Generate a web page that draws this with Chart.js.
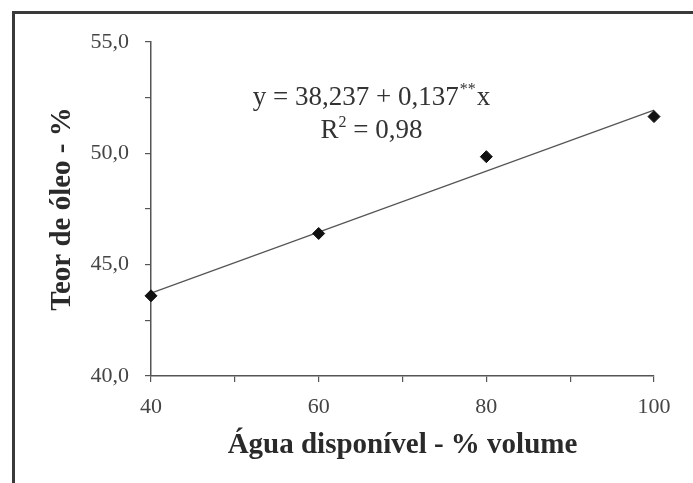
<!DOCTYPE html>
<html>
<head>
<meta charset="utf-8">
<script src="https://cdn.jsdelivr.net/npm/chart.js@4.4.1/dist/chart.umd.min.js"></script>
<style>
  html, body { margin: 0; padding: 0; background: #fff; }
  #wrap { position: relative; width: 693px; height: 483px; }
  #frame { position: absolute; left: 12px; top: 11px; right: -10px; bottom: -10px;
           border-top: 3px solid #3a3a3a; border-left: 3px solid #3a3a3a; pointer-events: none; }
  canvas { position: absolute; left: 0; top: 0; }
</style>
</head>
<body>
<div id="wrap">
  <canvas id="c" width="693" height="483"></canvas>
  <div id="frame"></div>
</div>
<script>
// Data
const waterAvailable = [40, 60, 80, 100];          // % volume
const oilContent     = [43.6, 46.4, 49.85, 51.65];  // %
const trendX = [40, 100];
const trendY = [43.72, 51.94];
const xTickLabels = [40, 60, 80, 100];
const yTickLabels = [40, 45, 50, 55];
const equationText = "y = 38,237 + 0,137";
const equationSup = "**";
const equationTail = "x";
const r2Text = "= 0,98";

const points = waterAvailable.map((x, i) => ({ x: x, y: oilContent[i] }));
const trend = trendX.map((x, i) => ({ x: x, y: trendY[i] }));

const serif = "'Liberation Serif', 'DejaVu Serif', serif";

const equationPlugin = {
  id: 'equation',
  afterDatasetsDraw(chart) {
    const ctx = chart.ctx;
    const xs = chart.scales.x, ys = chart.scales.y;
    const cx = xs.getPixelForValue(66.3);
    const y1 = ys.getPixelForValue(52.5);
    const y2 = ys.getPixelForValue(51.0);
    ctx.save();
    ctx.fillStyle = '#333';
    ctx.textBaseline = 'middle';
    const f = "27px " + serif, fs = "16px " + serif;
    ctx.font = f;
    const w1 = ctx.measureText(equationText).width;
    ctx.font = fs;
    const ws = ctx.measureText(equationSup).width;
    ctx.font = f;
    const wt = ctx.measureText(equationTail).width;
    let x = cx - (w1 + ws + wt + 2) / 2;
    ctx.textAlign = 'left';
    ctx.fillText(equationText, x, y1);
    x += w1 + 1;
    ctx.font = fs;
    ctx.fillText(equationSup, x, y1 - 8);
    x += ws + 1;
    ctx.font = f;
    ctx.fillText(equationTail, x, y1);
    const rw = ctx.measureText("R").width;
    ctx.font = fs;
    const sw = ctx.measureText("2").width;
    ctx.font = f;
    const ew = ctx.measureText(" " + r2Text).width;
    let x2 = cx - (rw + sw + ew) / 2;
    ctx.fillText("R", x2, y2);
    x2 += rw;
    ctx.font = fs;
    ctx.fillText("2", x2, y2 - 8);
    x2 += sw;
    ctx.font = f;
    ctx.fillText(" " + r2Text, x2, y2);
    ctx.restore();
  }
};

new Chart(document.getElementById('c'), {
  type: 'scatter',
  data: {
    datasets: [
      {
        type: 'line',
        data: trend,
        borderColor: '#555',
        borderWidth: 1.2,
        pointRadius: 0,
        fill: false,
        clip: false,
        order: 2
      },
      {
        data: points,
        pointStyle: 'rectRot',
        pointRadius: 6,
        backgroundColor: '#111',
        borderColor: '#111',
        borderWidth: 1,
        clip: false,
        order: 1
      }
    ]
  },
  options: {
    responsive: false,
    animation: false,
    layout: { padding: { left: 0, right: 39, top: 42, bottom: 0 } },
    plugins: { legend: { display: false }, tooltip: { enabled: false } },
    scales: {
      x: {
        type: 'linear',
        min: 40, max: 100,
        afterFit(s) { s.height = 107; },
        border: { display: true, color: '#555', width: 1.5 },
        grid: { drawOnChartArea: false, drawTicks: true, tickLength: 6, color: '#555', lineWidth: 1.2 },
        ticks: {
          stepSize: 10,
          autoSkip: false,
          maxRotation: 0,
          padding: 12,
          color: '#444',
          font: { family: serif, size: 22 },
          callback: (v) => xTickLabels.includes(v) ? String(v) : ''
        },
        title: {
          display: true,
          text: 'Água disponível - % volume',
          color: '#2a2a2a',
          font: { family: serif, size: 29, weight: 'bold' },
          padding: { top: 0, bottom: 20 }
        }
      },
      y: {
        type: 'linear',
        min: 40, max: 55,
        afterFit(s) { s.width = 151; },
        border: { display: true, color: '#555', width: 1.5 },
        grid: { drawOnChartArea: false, drawTicks: true, tickLength: 6, color: '#555', lineWidth: 1.2 },
        ticks: {
          stepSize: 2.5,
          autoSkip: false,
          padding: 16,
          color: '#444',
          font: { family: serif, size: 22 },
          callback: (v) => yTickLabels.includes(v) ? v.toFixed(1).replace('.', ',') : ''
        },
        title: {
          display: true,
          text: 'Teor de óleo - %',
          color: '#2a2a2a',
          font: { family: serif, size: 29, weight: 'bold' },
          padding: { top: 45, bottom: 0 }
        }
      }
    }
  },
  plugins: [equationPlugin]
});
</script>
</body>
</html>
